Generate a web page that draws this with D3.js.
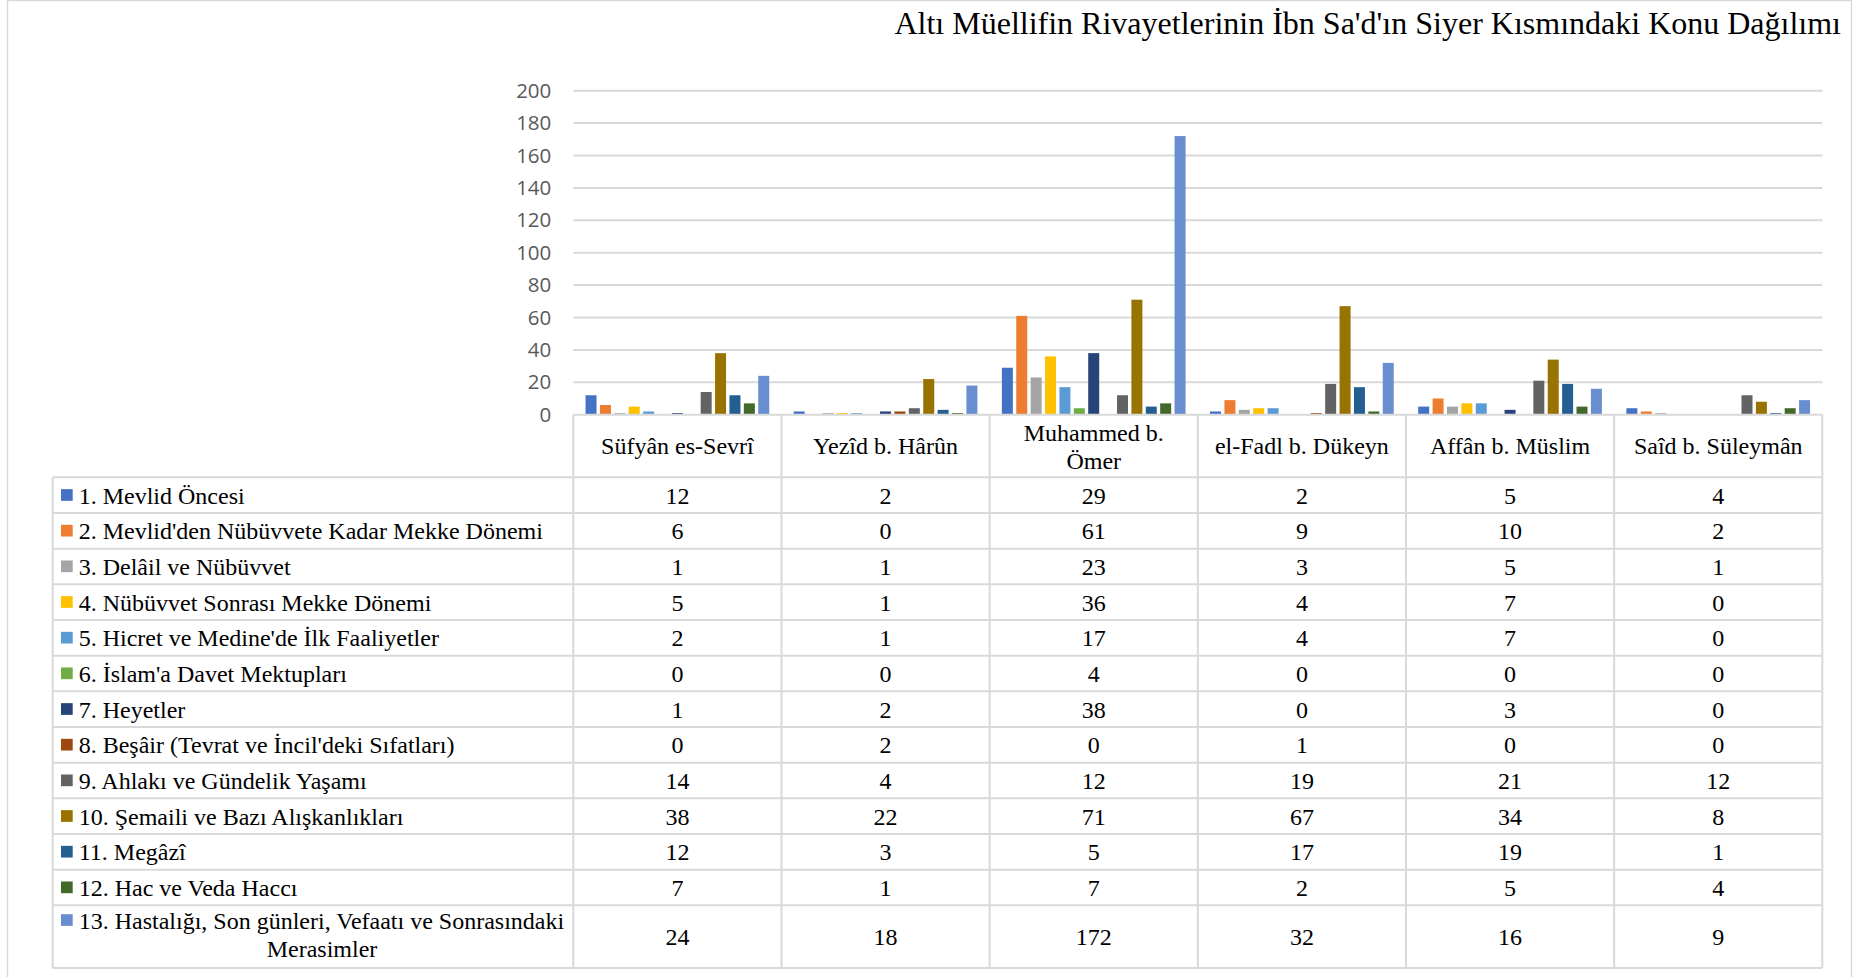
<!DOCTYPE html>
<html>
<head>
<meta charset="utf-8">
<script src="https://cdn.jsdelivr.net/npm/d3@7"></script>
<style>
  html, body { margin: 0; padding: 0; background: #fff; }
  svg { display: block; }
</style>
</head>
<body>
<svg id="chart" width="1865" height="977"></svg>
<script>
const title = "Altı Müellifin Rivayetlerinin İbn Sa'd'ın Siyer Kısmındaki Konu Dağılımı";
const categories = ["Süfyân es-Sevrî", "Yezîd b. Hârûn", "Muhammed b. Ömer", "el-Fadl b. Dükeyn", "Affân b. Müslim", "Saîd b. Süleymân"];
const seriesNames = [
  "1. Mevlid Öncesi",
  "2. Mevlid'den Nübüvvete Kadar Mekke Dönemi",
  "3. Delâil ve Nübüvvet",
  "4. Nübüvvet Sonrası Mekke Dönemi",
  "5. Hicret ve Medine'de İlk Faaliyetler",
  "6. İslam'a Davet Mektupları",
  "7. Heyetler",
  "8. Beşâir (Tevrat ve İncil'deki Sıfatları)",
  "9. Ahlakı ve Gündelik Yaşamı",
  "10. Şemaili ve Bazı Alışkanlıkları",
  "11. Megâzî",
  "12. Hac ve Veda Haccı",
  "13. Hastalığı, Son günleri, Vefaatı ve Sonrasındaki Merasimler"
];
const values = [
  [12, 2, 29, 2, 5, 4],
  [6, 0, 61, 9, 10, 2],
  [1, 1, 23, 3, 5, 1],
  [5, 1, 36, 4, 7, 0],
  [2, 1, 17, 4, 7, 0],
  [0, 0, 4, 0, 0, 0],
  [1, 2, 38, 0, 3, 0],
  [0, 2, 0, 1, 0, 0],
  [14, 4, 12, 19, 21, 12],
  [38, 22, 71, 67, 34, 8],
  [12, 3, 5, 17, 19, 1],
  [7, 1, 7, 2, 5, 4],
  [24, 18, 172, 32, 16, 9]
];
const yTicks = [0, 20, 40, 60, 80, 100, 120, 140, 160, 180, 200];
const colors = ["#4472C4", "#ED7D31", "#A5A5A5", "#FFC000", "#5B9BD5", "#70AD47",
                "#264478", "#9E480E", "#636363", "#997300", "#255E91", "#43682B", "#698ED0"];

const svg = d3.select("#chart");
const gridColor = "#d9d9d9";
const serif = "'Liberation Serif', 'Times New Roman', serif";
const fs = 24;

// layout
const plotLeft = 573.3, plotRight = 1822.3, plotTop = 90.7, plotBottom = 414.7;
const tableLeft = 52.7, headerBottom = 477.3, rowH = 35.67, lastRowH = 62.7;

// outer border
svg.append("rect").attr("x", 7.5).attr("y", 0.5).attr("width", 1844).attr("height", 980)
  .attr("fill", "none").attr("stroke", gridColor).attr("stroke-width", 1.5);

// title
svg.append("text").attr("x", 1841).attr("y", 34).attr("text-anchor", "end")
  .attr("font-family", serif).attr("font-size", 32).attr("fill", "#000").text(title);

const x0 = d3.scaleBand().domain(categories).range([plotLeft, plotRight]).padding(0);
const x1 = d3.scaleBand().domain(d3.range(seriesNames.length)).range([0, x0.bandwidth()])
  .paddingInner(0.236).paddingOuter(0.85);
const y = d3.scaleLinear().domain([0, 200]).range([plotBottom, plotTop]);

// gridlines
svg.append("g").selectAll("line").data(yTicks.filter(d => d > 0)).join("line")
  .attr("x1", plotLeft).attr("x2", plotRight)
  .attr("y1", d => y(d)).attr("y2", d => y(d))
  .attr("stroke", gridColor).attr("stroke-width", 2);

// y axis
const yAxis = svg.append("g").attr("transform", `translate(${plotLeft},0)`)
  .call(d3.axisLeft(y).tickValues(yTicks).tickSize(0).tickPadding(22));
yAxis.select(".domain").remove();
yAxis.selectAll("text").attr("font-family", "'Open Sans', 'Liberation Sans', sans-serif")
  .attr("font-size", 20.5).attr("fill", "#595959");

// bars
const groups = svg.append("g").selectAll("g").data(categories).join("g")
  .attr("transform", d => `translate(${x0(d)},0)`);
groups.selectAll("rect").data((c, ci) => values.map((row, si) => ({si, v: row[ci]})))
  .join("rect")
  .attr("x", d => x1(d.si)).attr("width", x1.bandwidth())
  .attr("y", d => y(d.v)).attr("height", d => y(0) - y(d.v))
  .attr("fill", d => colors[d.si]);

// table
const rowTops = seriesNames.map((s, i) => headerBottom + i * rowH);
const tableBottom = headerBottom + (seriesNames.length - 1) * rowH + lastRowH;
const tbl = svg.append("g");
const hLines = [plotBottom].concat(rowTops).concat([tableBottom]);
tbl.selectAll("line.h").data(hLines).join("line").attr("class", "h")
  .attr("x1", (d, i) => i === 0 ? plotLeft : tableLeft).attr("x2", plotRight)
  .attr("y1", d => d).attr("y2", d => d)
  .attr("stroke", gridColor).attr("stroke-width", 2);
const vCols = categories.map(c => x0(c)).concat([plotRight]);
tbl.selectAll("line.v").data(vCols).join("line").attr("class", "v")
  .attr("x1", d => d).attr("x2", d => d).attr("y1", plotBottom).attr("y2", tableBottom)
  .attr("stroke", gridColor).attr("stroke-width", 2);
tbl.append("line").attr("x1", tableLeft).attr("x2", tableLeft)
  .attr("y1", headerBottom).attr("y2", tableBottom)
  .attr("stroke", gridColor).attr("stroke-width", 2);

// header labels
const headerMid = (plotBottom + headerBottom) / 2;
categories.forEach(c => {
  const cx = x0(c) + x0.bandwidth() / 2;
  const t = tbl.append("text").attr("x", cx).attr("text-anchor", "middle")
    .attr("font-family", serif).attr("font-size", fs).attr("fill", "#000");
  if (c === "Muhammed b. Ömer") {
    t.append("tspan").attr("x", cx).attr("y", headerMid - 13.5).attr("dy", "0.35em").text("Muhammed b.");
    t.append("tspan").attr("x", cx).attr("y", headerMid + 14.5).attr("dy", "0.35em").text("Ömer");
  } else {
    t.attr("y", headerMid).attr("dy", "0.35em").text(c);
  }
});

// rows
seriesNames.forEach((s, si) => {
  const top = rowTops[si];
  const h = si === seriesNames.length - 1 ? lastRowH : rowH;
  const mid = top + h / 2;
  if (si === seriesNames.length - 1) {
    tbl.append("rect").attr("x", 61).attr("y", mid - 16.5 - 6).attr("width", 11.7).attr("height", 11.7).attr("fill", colors[si]);
    tbl.append("text").attr("x", 78.7).attr("y", mid - 16.5).attr("dy", "0.35em")
      .attr("font-family", serif).attr("font-size", fs).text("13. Hastalığı, Son günleri, Vefaatı ve Sonrasındaki");
    tbl.append("text").attr("x", 322).attr("y", mid + 12).attr("dy", "0.35em").attr("text-anchor", "middle")
      .attr("font-family", serif).attr("font-size", fs).text("Merasimler");
  } else {
    tbl.append("rect").attr("x", 61).attr("y", mid - 6).attr("width", 11.7).attr("height", 11.7).attr("fill", colors[si]);
    tbl.append("text").attr("x", 78.7).attr("y", mid).attr("dy", "0.35em")
      .attr("font-family", serif).attr("font-size", fs).text(s);
  }
  categories.forEach((c, ci) => {
    tbl.append("text").attr("x", x0(c) + x0.bandwidth() / 2).attr("y", mid).attr("dy", "0.35em")
      .attr("text-anchor", "middle").attr("font-family", serif).attr("font-size", fs)
      .text(values[si][ci]);
  });
});
</script>
</body>
</html>
